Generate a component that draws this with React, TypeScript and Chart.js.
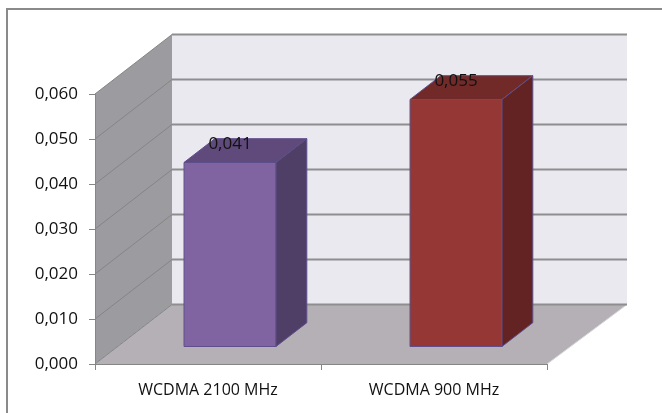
import React, { useEffect, useRef } from 'react';
import { Chart, registerables } from 'chart.js';

Chart.register(...registerables);

const categories = ['WCDMA 2100 MHz', 'WCDMA 900 MHz'];
const values = [0.041, 0.055];
const frontColors = ['#8064A2', '#953735'];
const topColors = ['#5F4A7B', '#722A29'];
const sideColors = ['#4F3E65', '#632322'];
const yMin = 0;
const yMax = 0.06;
const yStep = 0.01;

const DX = 77;
const DY = -59.5;
const BAR_FRONT = 0.286;
const BAR_DEPTH = 0.4;
const FONT = "'Open Sans', 'Liberation Sans', sans-serif";

const fmt = (v: number) => v.toFixed(3).replace('.', ',');

function poly(ctx: CanvasRenderingContext2D, pts: number[][], fill: string, stroke?: string, lw = 1) {
  ctx.beginPath();
  ctx.moveTo(pts[0][0], pts[0][1]);
  for (let i = 1; i < pts.length; i++) ctx.lineTo(pts[i][0], pts[i][1]);
  ctx.closePath();
  ctx.fillStyle = fill;
  ctx.fill();
  if (stroke) {
    ctx.strokeStyle = stroke;
    ctx.lineWidth = lw;
    ctx.stroke();
  }
}

const plugin3d = {
  id: 'three-d',
  beforeDraw(chart: any) {
    const { ctx, chartArea: a, scales } = chart;
    const ys = scales.y;
    ctx.save();
    ctx.fillStyle = '#ffffff';
    ctx.fillRect(0, 0, chart.width, chart.height);
    ctx.strokeStyle = '#8a8a8a';
    ctx.lineWidth = 2;
    ctx.strokeRect(7, 9, chart.width + 20, chart.height + 20);

    const L = a.left, R = a.right, T = a.top, B = a.bottom;
    const BR = R + 3; // back wall extends a touch further right
    // back wall
    poly(ctx, [[L + DX, T + DY], [BR + DX, T + DY], [BR + DX, B + DY], [L + DX, B + DY]], '#EBE9F0');
    // side wall
    poly(ctx, [[L, T], [L + DX, T + DY], [L + DX, B + DY], [L, B]], '#9C9BA0');
    // floor
    poly(ctx, [[L, B], [L + DX, B + DY], [BR + DX, B + DY], [R, B]], '#B4B0B5');
    // floor right edge highlight
    ctx.strokeStyle = '#d6d4d8';
    ctx.lineWidth = 1;
    ctx.beginPath();
    ctx.moveTo(R, B);
    ctx.lineTo(BR + DX, B + DY);
    ctx.stroke();

    ys.ticks.forEach((t: any) => {
      const py = ys.getPixelForValue(t.value);
      ctx.strokeStyle = '#8e8e8e';
      ctx.lineWidth = 2;
      ctx.beginPath();
      ctx.moveTo(L + DX, py + DY);
      ctx.lineTo(BR + DX, py + DY);
      ctx.stroke();
      ctx.strokeStyle = '#858585';
      ctx.lineWidth = 1;
      ctx.beginPath();
      ctx.moveTo(L, py);
      ctx.lineTo(L + DX, py + DY);
      ctx.stroke();
    });
    ctx.restore();
  },
  afterDatasetsDraw(chart: any) {
    const { ctx } = chart;
    const meta = chart.getDatasetMeta(0);
    ctx.save();
    meta.data.forEach((el: any, i: number) => {
      const { x, y, base, width } = el.getProps(['x', 'y', 'base', 'width'], true);
      const fx = BAR_FRONT * DX, fy = BAR_FRONT * DY;
      const dx = BAR_DEPTH * DX, dy = BAR_DEPTH * DY;
      const x0 = x - width / 2 + fx, x1 = x + width / 2 + fx;
      const yt = y + fy, yb = base + fy;
      const edge = '#5E4F8C';
      poly(ctx, [[x0, yt], [x1, yt], [x1, yb], [x0, yb]], frontColors[i], edge, 1);
      poly(ctx, [[x0, yt], [x0 + dx, yt + dy], [x1 + dx, yt + dy], [x1, yt]], topColors[i], edge, 1);
      poly(ctx, [[x1, yt], [x1 + dx, yt + dy], [x1 + dx, yb + dy], [x1, yb]], sideColors[i], edge, 1);
      ctx.fillStyle = '#111111';
      ctx.font = `17px ${FONT}`;
      ctx.textAlign = 'center';
      ctx.textBaseline = 'middle';
      ctx.fillText(fmt(values[i]), (x0 + x1) / 2, yt + dy + 5);
    });
    ctx.restore();
  },
};

export default function App() {
  const ref = useRef<HTMLCanvasElement | null>(null);
  useEffect(() => {
    if (!ref.current) return;
    const chart = new Chart(ref.current, {
      type: 'bar',
      data: {
        labels: categories,
        datasets: [
          {
            data: values,
            backgroundColor: 'rgba(0,0,0,0)',
            borderWidth: 0,
            barPercentage: 0.407,
            categoryPercentage: 1,
          },
        ],
      },
      options: {
        animation: false,
        responsive: false,
        devicePixelRatio: 1,
        layout: { padding: { top: 94, right: 115, bottom: 0, left: 0 } },
        plugins: { legend: { display: false }, tooltip: { enabled: false } },
        scales: {
          x: {
            grid: { display: true, drawOnChartArea: false, drawTicks: true, tickLength: 6, color: '#868686', offset: true },
            border: { display: true, color: '#868686', width: 1 },
            ticks: { color: '#111111', font: { family: FONT, size: 16 }, padding: 11, maxRotation: 0 },
            afterFit: (s: any) => { s.height = 49; },
          },
          y: {
            min: yMin,
            max: yMax,
            grid: { display: true, drawOnChartArea: false, drawTicks: true, tickLength: 6, color: '#868686' },
            border: { display: true, color: '#868686', width: 1 },
            ticks: {
              stepSize: yStep,
              color: '#111111',
              font: { family: FONT, size: 17 },
              padding: 11,
              callback: (v: any) => fmt(Number(v)),
            },
            afterFit: (s: any) => { s.width = 95; },
          },
        },
      },
      plugins: [plugin3d],
    });
    return () => chart.destroy();
  }, []);
  return (
    <div style={{ position: 'fixed', left: 0, top: 0, width: 662, height: 413 }}>
      <canvas ref={ref} width={662} height={413} />
    </div>
  );
}
